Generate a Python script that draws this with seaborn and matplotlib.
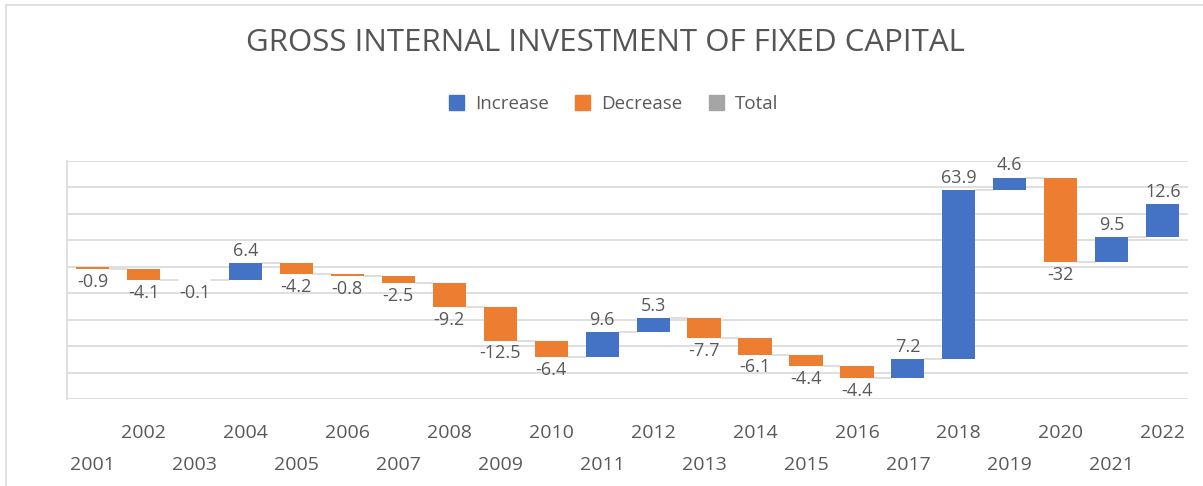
import numpy as np
import pandas as pd
import seaborn as sns
import matplotlib.pyplot as plt
from matplotlib.patches import Patch, Rectangle

# Data
years = [str(y) for y in range(2001, 2023)]
changes = [-0.9, -4.1, -0.1, 6.4, -4.2, -0.8, -2.5, -9.2, -12.5, -6.4, 9.6,
           5.3, -7.7, -6.1, -4.4, -4.4, 7.2, 63.9, 4.6, -32, 9.5, 12.6]
labels = ['-0.9', '-4.1', '-0.1', '6.4', '-4.2', '-0.8', '-2.5', '-9.2', '-12.5',
          '-6.4', '9.6', '5.3', '-7.7', '-6.1', '-4.4', '-4.4', '7.2', '63.9',
          '4.6', '-32', '9.5', '12.6']

BLUE = '#4472C4'
ORANGE = '#ED7D31'
GRAY = '#A5A5A5'
TXT = '#595959'

sns.set_theme(style='white')
plt.rcParams['font.family'] = ['Open Sans', 'DejaVu Sans']

# Waterfall geometry
changes = np.array(changes)
ends = np.cumsum(changes)
starts = ends - changes
bottoms = np.minimum(starts, ends)
heights = np.abs(changes)

df = pd.DataFrame({'year': years, 'height': heights})

fig = plt.figure(figsize=(12.03, 4.86), dpi=100)
ax = fig.add_axes([0.0557, 0.179, 0.932, 0.490])

sns.barplot(data=df, x='year', y='height', bottom=bottoms, width=0.65,
            color=BLUE, errorbar=None, ax=ax, zorder=3)
for p, c in zip(ax.patches, changes):
    p.set_facecolor(BLUE if c > 0 else ORANGE)
    p.set_edgecolor('none')

# connector lines
for i in range(len(changes) - 1):
    ax.plot([i + 0.325, i + 1 - 0.325], [ends[i], ends[i]],
            color='#D9D9D9', lw=1.2, zorder=2)

# data labels
for i, (c, lab) in enumerate(zip(changes, labels)):
    if c > 0:
        ax.text(i, max(starts[i], ends[i]) + 1.2, lab, ha='center', va='bottom',
                fontsize=13, color=TXT)
    else:
        ax.text(i, min(starts[i], ends[i]) - 1.4, lab, ha='center', va='top',
                fontsize=13, color=TXT)

ax.set_ylim(-50, 40)
ax.set_xlim(-0.5, len(years) - 0.5)
ax.set_yticks(np.arange(-50, 41, 10))
ax.set_yticklabels([])
ax.yaxis.grid(True, color='#D9D9D9', lw=1.2, zorder=0)
ax.set_xlabel('')
ax.set_ylabel('')
ax.tick_params(axis='both', length=0)
ax.set_xticklabels([])
for s in ['top', 'right', 'bottom']:
    ax.spines[s].set_visible(False)
ax.spines['left'].set_color('#D9D9D9')
ax.spines['left'].set_linewidth(1.2)

# staggered year labels
for i, y in enumerate(years):
    ypos = -0.143 if i % 2 == 1 else -0.277
    ax.text(i, ypos, y, transform=ax.get_xaxis_transform(), ha='center',
            va='center', fontsize=14, color=TXT)

fig.text(0.503, 0.912, 'GROSS INTERNAL INVESTMENT OF FIXED CAPITAL',
         ha='center', va='center', fontsize=22.5, color='#555555')

handles = [Patch(color=BLUE, label='Increase'),
           Patch(color=ORANGE, label='Decrease'),
           Patch(color=GRAY, label='Total')]
fig.legend(handles=handles, loc='center', bbox_to_anchor=(0.51, 0.786), ncol=3,
           frameon=False, fontsize=13.5, labelcolor=TXT, handlelength=0.8,
           handleheight=0.8, handletextpad=0.6, columnspacing=1.4)

# outer chart frame
fig.patches.append(Rectangle((6 / 1203, -0.1), 1.2, 1.1 - 5 / 486,
                             transform=fig.transFigure, fill=False,
                             edgecolor='#E0E0E0', lw=1.5))

fig.savefig('out.png', dpi=100)
